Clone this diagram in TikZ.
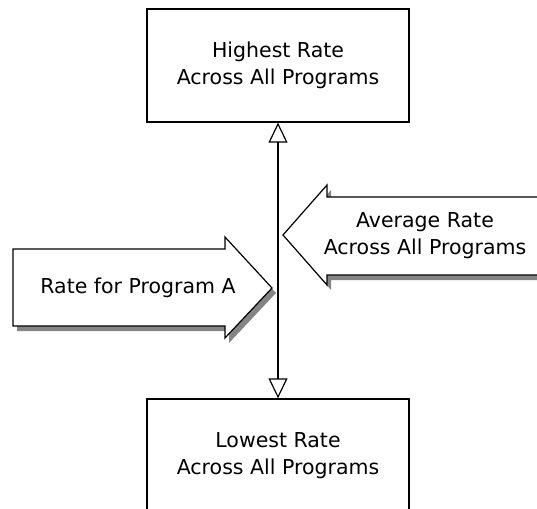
\documentclass[tikz,border=0pt]{standalone}
\usepackage{fontspec}
\setmainfont{DejaVu Sans}
\usetikzlibrary{arrows.meta}
\begin{document}
\begin{tikzpicture}[x=1pt,y=-1pt,
  labeltext/.style={font=\fontsize{20.5}{27}\selectfont, align=center, inner sep=0pt},
  framebox/.style={draw=black, line width=1.3pt, minimum width=262pt, minimum height=113pt,
                   inner sep=0pt, font=\fontsize{20.5}{27}\selectfont, align=center},
  dropshadow/.style={fill=black!48, draw=none},
  blockarrow/.style={draw=black, line width=1.2pt, fill=white, line join=miter},
  opentip/.style={Triangle[open, length=20pt, width=19pt]}]
\useasboundingbox (0,0) rectangle (537,508);
\clip (0,0) rectangle (537,508);

% range boxes
\node[framebox] (high) at (278,65.5) {Highest Rate\\Across All Programs};
\node[framebox] (low)  at (278,455.5) {Lowest Rate\\Across All Programs};

% scale between the two boxes
\draw[line width=1.2pt, {Triangle[open, length=20pt, width=19pt]}-{Triangle[open, length=20pt, width=19pt]}]
  (high.south) -- (low.north);

% block arrow from the left, with its shadow
\fill[dropshadow, shift={(4,5)}]
  (13,249) -- (225,249) -- (225,237) -- (272,288) -- (225,338) -- (225,326) -- (13,326) -- cycle;
\draw[blockarrow]
  (13,249) -- (225,249) -- (225,237) -- (272,288) -- (225,338) -- (225,326) -- (13,326) -- cycle;
\node[labeltext] (prog) at (138,288) {Rate for Program A};

% block arrow from the right, with its shadow
\fill[dropshadow, shift={(4,5)}]
  (570,197) -- (327,197) -- (327,185) -- (283,235) -- (327,285) -- (327,275) -- (570,275) -- cycle;
\draw[blockarrow]
  (570,197) -- (327,197) -- (327,185) -- (283,235) -- (327,285) -- (327,275) -- (570,275) -- cycle;
\node[labeltext] (avg) at (425,236) {Average Rate\\Across All Programs};
\end{tikzpicture}
\end{document}
